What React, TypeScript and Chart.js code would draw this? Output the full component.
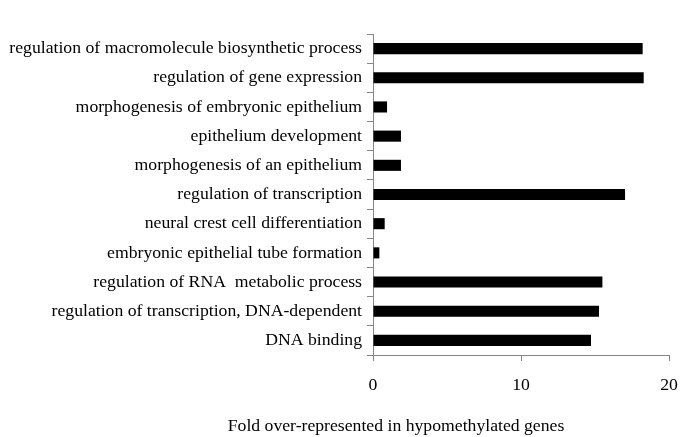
import React, { useEffect, useRef } from "react";
import { Chart, registerables } from "chart.js";

Chart.register(...registerables);

const categories = [
  "regulation of macromolecule biosynthetic process",
  "regulation of gene expression",
  "morphogenesis of embryonic epithelium",
  "epithelium development",
  "morphogenesis of an epithelium",
  "regulation of transcription",
  "neural crest cell differentiation",
  "embryonic epithelial tube formation",
  "regulation of RNA  metabolic process",
  "regulation of transcription, DNA-dependent",
  "DNA binding",
];

const foldValues = [18.22, 18.29, 0.95, 1.89, 1.89, 17.03, 0.79, 0.43, 15.5, 15.27, 14.73];

const xTickValues = [0, 10, 20];

const xAxisTitle = "Fold over-represented in hypomethylated genes";

const FONT = "'Liberation Serif', 'Times New Roman', serif";
const FONT_SIZE = 17.7;

export default function App() {
  const ref = useRef<HTMLCanvasElement | null>(null);

  useEffect(() => {
    if (!ref.current) return;
    const titlePlugin = {
      id: "bottomTitle",
      afterDraw(chart: any) {
        const ctx = chart.ctx;
        ctx.save();
        ctx.font = `${FONT_SIZE}px ${FONT}`;
        ctx.fillStyle = "#000";
        ctx.textAlign = "center";
        ctx.textBaseline = "middle";
        ctx.fillText(xAxisTitle, chart.chartArea.left + 23, chart.chartArea.bottom + 71);
        ctx.restore();
      },
    };
    const chart = new Chart(ref.current, {
      type: "bar",
      data: {
        labels: categories,
        datasets: [
          {
            data: foldValues,
            backgroundColor: "#000",
            borderWidth: 0,
            barPercentage: 0.38,
            categoryPercentage: 1,
          },
        ],
      },
      options: {
        indexAxis: "y",
        animation: false,
        responsive: true,
        maintainAspectRatio: false,
        layout: { padding: { top: 34, right: 16, bottom: 0, left: 0 } },
        plugins: {
          legend: { display: false },
          tooltip: { enabled: false },
          title: { display: false },
        },
        scales: {
          x: {
            min: 0,
            max: 20,
            afterBuildTicks(scale: any) {
              scale.ticks = xTickValues.map((v) => ({ value: v }));
            },
            afterFit(scale: any) {
              scale.height = 82;
              scale.paddingLeft = 0;
              scale.paddingRight = 0;
            },
            border: { display: true, color: "#868686", width: 1 },
            grid: {
              display: true,
              drawOnChartArea: false,
              drawTicks: true,
              tickLength: 6,
              color: "#868686",
            },
            ticks: {
              color: "#000",
              font: { family: FONT, size: FONT_SIZE },
              padding: 14,
              maxRotation: 0,
            },
          },
          y: {
            afterFit(scale: any) {
              scale.width = 373;
              scale.paddingTop = 0;
              scale.paddingBottom = 0;
            },
            border: { display: true, color: "#868686", width: 1 },
            grid: {
              display: true,
              offset: true,
              drawOnChartArea: false,
              drawTicks: true,
              tickLength: 6,
              color: "#868686",
            },
            ticks: {
              color: "#000",
              font: { family: FONT, size: FONT_SIZE },
              padding: 5,
              autoSkip: false,
            },
          },
        },
      },
      plugins: [titlePlugin],
    } as any);
    return () => chart.destroy();
  }, []);

  return (
    <div style={{ position: "absolute", left: 0, top: 0, width: 685, height: 437, background: "#fff" }}>
      <canvas ref={ref} />
    </div>
  );
}
